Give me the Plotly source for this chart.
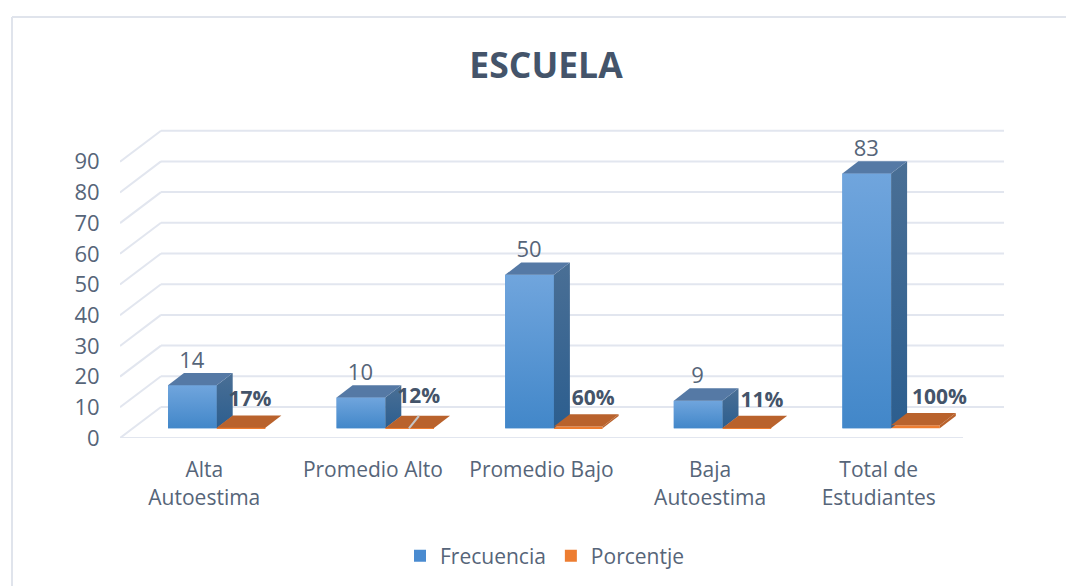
import plotly.graph_objects as go

categories = ["Alta<br>Autoestima", "Promedio Alto", "Promedio Bajo", "Baja<br>Autoestima", "Total de<br>Estudiantes"]
frecuencia = [14, 10, 50, 9, 83]
porcentaje = [0.17, 0.12, 0.60, 0.11, 1.00]
porcentaje_labels = ["17%", "12%", "60%", "11%", "100%"]
y_ticks = [0, 10, 20, 30, 40, 50, 60, 70, 80, 90]

FONT = "Open Sans"
TEXT = "#44546a"
TICK = "#566579"
GRID = "#e2e6ef"
PX_X = 168.6
PX_Y = 3.07
WALL_DX, WALL_DY = 41 / PX_X, 31 / PX_Y
BAR_DX, BAR_DY = 16 / PX_X, 12.3 / PX_Y
BASE = 9.7 / PX_Y
W = 48.7 / PX_X
OFF_F = -36.3 / PX_X
OFF_P = OFF_F + W
LABEL_P_DX = [9, 9, 15, 15, 24]
LABEL_P_DY = [0, 3, 1, -1, 2]
xs = list(range(len(categories)))

fig = go.Figure()
fig.add_trace(go.Bar(x=[c + OFF_F + W / 2 for c in xs], y=frecuencia, base=BASE, width=W,
                     name="Frecuencia", marker=dict(color="#4a8bd0", line_width=0), hoverinfo="skip"))
fig.add_trace(go.Bar(x=[c + OFF_P + W / 2 for c in xs], y=porcentaje, base=BASE, width=W,
                     name="Porcentje", marker=dict(color="#ed7d31", line_width=0), hoverinfo="skip"))


def face(px, py, color=None, grad=None):
    t = dict(x=px + px[:1], y=py + py[:1], mode="lines", fill="toself", line=dict(width=0),
             showlegend=False, hoverinfo="skip")
    if grad:
        t["fillgradient"] = dict(type="vertical", colorscale=[[0, grad[0]], [1, grad[1]]])
    else:
        t["fillcolor"] = color
    fig.add_trace(go.Scatter(**t))


for c, v in zip(xs, frecuencia):
    l, r, b, t = c + OFF_F, c + OFF_F + W, BASE, BASE + v
    face([l, r, r, l], [b, b, t, t], grad=("#4287c9", "#70a5dd"))
    face([r, r + BAR_DX, r + BAR_DX, r], [b, b + BAR_DY, t + BAR_DY, t], grad=("#2c5e8f", "#4a6f95"))
    face([l, r, r + BAR_DX, l + BAR_DX], [t, t, t + BAR_DY, t + BAR_DY], color="#5579a5")

for c, v in zip(xs, porcentaje):
    l, r, b, t = c + OFF_P, c + OFF_P + W, BASE, BASE + v
    face([r, r + BAR_DX, r + BAR_DX, r], [b, b + BAR_DY, t + BAR_DY, t], color="#b9622c")
    face([l, r, r + BAR_DX, l + BAR_DX], [t, t, t + BAR_DY, t + BAR_DY], color="#b9622c")

# small grey stroke across the second orange bar
fig.add_trace(go.Scatter(x=[1 + 36 / PX_X, 1 + 46 / PX_X], y=[BASE, BASE + BAR_DY], mode="lines",
                         line=dict(color="#c4c6c8", width=2), showlegend=False, hoverinfo="skip"))

fig.add_trace(go.Scatter(x=[c + OFF_F + (W + BAR_DX) / 2 - 8.5 / PX_X for c in xs],
                         y=[BASE + v + BAR_DY + 11 / PX_Y for v in frecuencia],
                         mode="text", text=[str(v) for v in frecuencia], textposition="middle center",
                         textfont=dict(family=FONT, size=22, color=TICK), showlegend=False, hoverinfo="skip"))
fig.add_trace(go.Scatter(x=[c + OFF_P + W / 2 + d / PX_X for c, d in zip(xs, LABEL_P_DX)],
                         y=[BASE + BAR_DY + 15 / PX_Y + d / PX_Y for d in LABEL_P_DY],
                         mode="text", text=porcentaje_labels, textposition="middle center",
                         textfont=dict(family=FONT, size=21, color=TEXT, weight="bold"),
                         showlegend=False, hoverinfo="skip"))

line = dict(color=GRID, width=2)
shapes = []
for v in y_ticks:
    shapes.append(dict(type="line", layer="below", xref="x", yref="y", x0=-0.5, y0=v,
                       x1=-0.5 + WALL_DX, y1=v + WALL_DY, line=line))
    shapes.append(dict(type="line", layer="below", xref="x", yref="y", x0=-0.5 + WALL_DX, y0=v + WALL_DY,
                       x1=4.5 + WALL_DX, y1=v + WALL_DY, line=line))
shapes.append(dict(type="line", layer="below", xref="x", yref="y", x0=-0.5, y0=0, x1=4.5, y1=0, line=line))


def px_paper_x(p):
    return (p - 120) / 884


def px_paper_y(p):
    return (438 - p) / 313


shapes.append(dict(type="line", layer="below", xref="paper", yref="paper", x0=px_paper_x(12), y0=px_paper_y(590),
                   x1=px_paper_x(12), y1=px_paper_y(17), line=dict(color="#e0e4ec", width=2)))
shapes.append(dict(type="line", layer="below", xref="paper", yref="paper", x0=px_paper_x(12), y0=px_paper_y(17),
                   x1=px_paper_x(1080), y1=px_paper_y(17), line=dict(color="#e0e4ec", width=2)))

fig.update_layout(
    width=1066, height=586, margin=dict(l=120, r=62, t=125, b=148, autoexpand=False),
    paper_bgcolor="white", plot_bgcolor="rgba(0,0,0,0)", barmode="overlay", shapes=shapes,
    title=dict(text="<b>ESCUELA</b>", x=546 / 1066, xanchor="center", y=1 - 66 / 586, yanchor="middle",
               font=dict(family=FONT, size=35.5, color=TEXT)),
    xaxis=dict(range=[-0.5, 4.5 + WALL_DX], tickvals=xs, ticktext=categories, showgrid=False, zeroline=False,
               showline=False, ticks="outside", ticklen=13, tickcolor="rgba(0,0,0,0)",
               tickfont=dict(family=FONT, size=21, color=TICK)),
    yaxis=dict(range=[0, 313 / PX_Y], tickvals=y_ticks, showgrid=False, zeroline=False, showline=False,
               ticks="outside", ticklen=15, tickcolor="rgba(0,0,0,0)",
               tickfont=dict(family=FONT, size=22, color=TICK)),
    legend=dict(orientation="h", x=px_paper_x(400), y=px_paper_y(556), xanchor="left", yanchor="middle",
                font=dict(family=FONT, size=21, color=TICK), bgcolor="rgba(0,0,0,0)", itemwidth=30,
                traceorder="normal"),
    showlegend=True,
)
fig.write_html("out.html", config={"displayModeBar": False},
               post_script="document.body.style.margin='0';document.body.style.overflow='hidden';")
